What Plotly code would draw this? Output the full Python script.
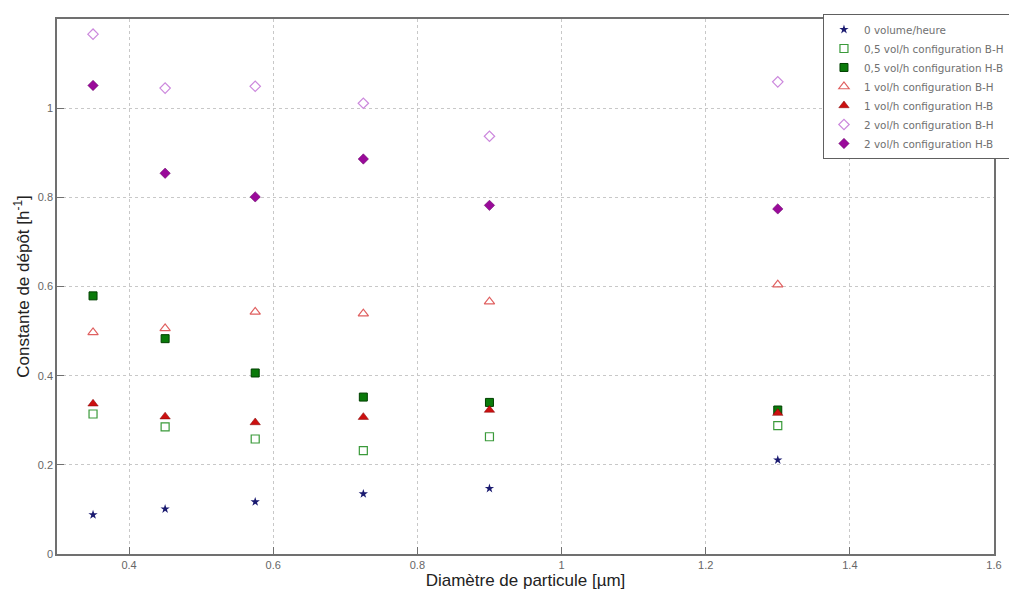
import plotly.graph_objects as go

diam = [0.35, 0.45, 0.575, 0.725, 0.9, 1.3]
s0 = [0.088, 0.101, 0.117, 0.135, 0.147, 0.211]
s05_bh = [0.314, 0.285, 0.258, 0.232, 0.263, 0.288]
s05_hb = [0.579, 0.483, 0.406, 0.352, 0.340, 0.323]
s1_bh = [0.497, 0.506, 0.543, 0.539, 0.566, 0.604]
s1_hb = [0.337, 0.308, 0.295, 0.307, 0.323, 0.316]
s2_bh = [1.166, 1.045, 1.049, 1.011, 0.937, 1.059]
s2_hb = [1.051, 0.854, 0.801, 0.886, 0.782, 0.774]

names = ["0 volume/heure", "0,5 vol/h configuration B-H", "0,5 vol/h configuration H-B",
         "1 vol/h configuration B-H", "1 vol/h configuration H-B",
         "2 vol/h configuration B-H", "2 vol/h configuration H-B"]
series = [s0, s05_bh, s05_hb, s1_bh, s1_hb, s2_bh, s2_hb]
styles = [
    dict(symbol="star", size=7, color="#1a1a70", line=dict(width=0)),
    dict(symbol="square-open", size=8, color="#3a9a3a", line=dict(width=1.2)),
    dict(symbol="square", size=8, color="#0a7a0a", line=dict(width=1, color="#004000")),
    dict(symbol="triangle-up-open", size=9, color="#e06060", line=dict(width=1.2)),
    dict(symbol="triangle-up", size=9, color="#cc1010", line=dict(width=0.5, color="#800000")),
    dict(symbol="diamond-open", size=8, color="#cc88dd", line=dict(width=1.2)),
    dict(symbol="diamond", size=8, color="#9a0a9a", line=dict(width=0.5, color="#600060")),
]

fig = go.Figure()
for n, s, st in zip(names, series, styles):
    fig.add_trace(go.Scatter(x=diam, y=s, mode="markers", name=n, marker=st))

axis_common = dict(
    showline=True, linecolor="#707070", linewidth=1.5, mirror=True,
    ticks="inside", ticklen=7, tickcolor="#707070",
    showgrid=True, gridcolor="#c8c8c8", griddash="dot", gridwidth=1,
    zeroline=False, tickfont=dict(family="Liberation Sans, Arial", size=11, color="#666666"),
)

fig.update_xaxes(range=[0.3, 1.6], tickvals=[0.4, 0.6, 0.8, 1.0, 1.2, 1.4, 1.6],
                 ticktext=["0.4", "0.6", "0.8", "1", "1.2", "1.4", "1.6"],
                 title=dict(text="Diamètre de particule [µm]", standoff=2,
                            font=dict(family="Liberation Sans, Arial", size=17, color="#222222")),
                 **axis_common)
fig.update_yaxes(range=[0, 1.2], tickvals=[0, 0.2, 0.4, 0.6, 0.8, 1.0],
                 ticktext=["0", "0.2", "0.4", "0.6", "0.8", "1"],
                 title=dict(text="Constante de dépôt [h<sup>-1</sup>]", standoff=4,
                            font=dict(family="Liberation Sans, Arial", size=17, color="#222222")),
                 **axis_common)

fig.update_layout(
    width=1009, height=586,
    margin=dict(l=49, r=23, t=11, b=40, autoexpand=False),
    plot_bgcolor="white", paper_bgcolor="white",
    legend=dict(x=0.8077, y=0.9898, xref="container", yref="container",
                xanchor="left", yanchor="top",
                bgcolor="white", bordercolor="#606060", borderwidth=1,
                font=dict(family="DejaVu Sans", size=10.4, color="#707070"),
                tracegroupgap=0, itemwidth=30),
)

fig.write_html("out.html")
